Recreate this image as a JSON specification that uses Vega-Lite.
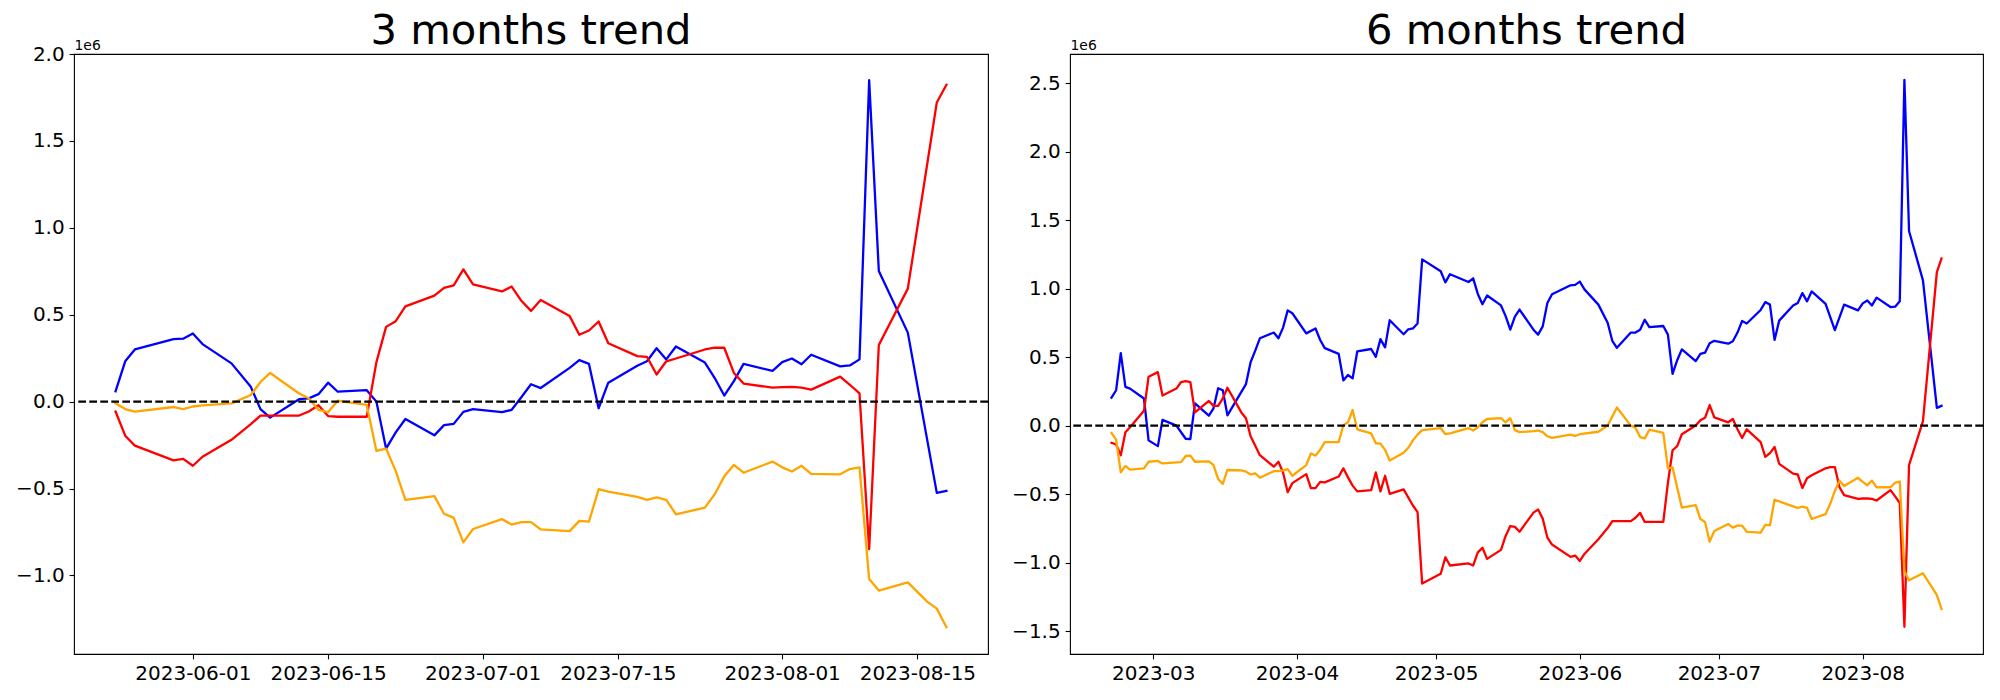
{
"$schema": "https://vega.github.io/schema/vega-lite/v6.json",
"background": "white",
"padding": {"left": 15, "top": 10, "right": 10, "bottom": 5},
"config": {
  "font": "DejaVu Sans",
  "view": {"stroke": "black", "strokeWidth": 1.1},
  "axis": {"grid": false, "domain": false, "tickColor": "black", "tickWidth": 1.1, "tickSize": 4.9, "labelFontSize": 20, "labelColor": "black", "labelPadding": 4.9, "labelFont": "DejaVu Sans", "titleFont": "DejaVu Sans"}
},
"datasets": {
"m3": [
{"d":"2023-05-24","s":"blue","v":0.059},{"d":"2023-05-25","s":"blue","v":0.232},{"d":"2023-05-26","s":"blue","v":0.300},{"d":"2023-05-30","s":"blue","v":0.359},{"d":"2023-05-31","s":"blue","v":0.362},{"d":"2023-06-01","s":"blue","v":0.392},{"d":"2023-06-02","s":"blue","v":0.331},{"d":"2023-06-05","s":"blue","v":0.220},{"d":"2023-06-07","s":"blue","v":0.085},{"d":"2023-06-08","s":"blue","v":-0.043},{"d":"2023-06-09","s":"blue","v":-0.092},{"d":"2023-06-12","s":"blue","v":0.014},{"d":"2023-06-13","s":"blue","v":0.019},{"d":"2023-06-14","s":"blue","v":0.043},{"d":"2023-06-15","s":"blue","v":0.109},{"d":"2023-06-16","s":"blue","v":0.057},{"d":"2023-06-19","s":"blue","v":0.066},{"d":"2023-06-20","s":"blue","v":0.000},{"d":"2023-06-21","s":"blue","v":-0.270},{"d":"2023-06-22","s":"blue","v":-0.177},{"d":"2023-06-23","s":"blue","v":-0.100},{"d":"2023-06-26","s":"blue","v":-0.194},{"d":"2023-06-27","s":"blue","v":-0.135},{"d":"2023-06-28","s":"blue","v":-0.128},{"d":"2023-06-29","s":"blue","v":-0.059},{"d":"2023-06-30","s":"blue","v":-0.043},{"d":"2023-07-03","s":"blue","v":-0.061},{"d":"2023-07-04","s":"blue","v":-0.047},{"d":"2023-07-05","s":"blue","v":0.025},{"d":"2023-07-06","s":"blue","v":0.100},{"d":"2023-07-07","s":"blue","v":0.078},{"d":"2023-07-10","s":"blue","v":0.194},{"d":"2023-07-11","s":"blue","v":0.239},{"d":"2023-07-12","s":"blue","v":0.217},{"d":"2023-07-13","s":"blue","v":-0.038},{"d":"2023-07-14","s":"blue","v":0.109},{"d":"2023-07-17","s":"blue","v":0.206},{"d":"2023-07-18","s":"blue","v":0.232},{"d":"2023-07-19","s":"blue","v":0.307},{"d":"2023-07-20","s":"blue","v":0.243},{"d":"2023-07-21","s":"blue","v":0.317},{"d":"2023-07-24","s":"blue","v":0.225},{"d":"2023-07-25","s":"blue","v":0.137},{"d":"2023-07-26","s":"blue","v":0.035},{"d":"2023-07-27","s":"blue","v":0.118},{"d":"2023-07-28","s":"blue","v":0.217},{"d":"2023-07-31","s":"blue","v":0.177},{"d":"2023-08-01","s":"blue","v":0.227},{"d":"2023-08-02","s":"blue","v":0.248},{"d":"2023-08-03","s":"blue","v":0.215},{"d":"2023-08-04","s":"blue","v":0.270},{"d":"2023-08-07","s":"blue","v":0.203},{"d":"2023-08-08","s":"blue","v":0.208},{"d":"2023-08-09","s":"blue","v":0.243},{"d":"2023-08-10","s":"blue","v":1.849},{"d":"2023-08-11","s":"blue","v":0.752},{"d":"2023-08-14","s":"blue","v":0.397},{"d":"2023-08-17","s":"blue","v":-0.525},{"d":"2023-08-18","s":"blue","v":-0.513},
{"d":"2023-05-24","s":"red","v":-0.057},{"d":"2023-05-25","s":"red","v":-0.196},{"d":"2023-05-26","s":"red","v":-0.253},{"d":"2023-05-30","s":"red","v":-0.338},{"d":"2023-05-31","s":"red","v":-0.329},{"d":"2023-06-01","s":"red","v":-0.369},{"d":"2023-06-02","s":"red","v":-0.317},{"d":"2023-06-05","s":"red","v":-0.220},{"d":"2023-06-07","s":"red","v":-0.130},{"d":"2023-06-08","s":"red","v":-0.080},{"d":"2023-06-09","s":"red","v":-0.080},{"d":"2023-06-12","s":"red","v":-0.080},{"d":"2023-06-13","s":"red","v":-0.057},{"d":"2023-06-14","s":"red","v":-0.021},{"d":"2023-06-15","s":"red","v":-0.083},{"d":"2023-06-16","s":"red","v":-0.087},{"d":"2023-06-19","s":"red","v":-0.087},{"d":"2023-06-20","s":"red","v":0.227},{"d":"2023-06-21","s":"red","v":0.430},{"d":"2023-06-22","s":"red","v":0.463},{"d":"2023-06-23","s":"red","v":0.548},{"d":"2023-06-26","s":"red","v":0.610},{"d":"2023-06-27","s":"red","v":0.655},{"d":"2023-06-28","s":"red","v":0.669},{"d":"2023-06-29","s":"red","v":0.761},{"d":"2023-06-30","s":"red","v":0.674},{"d":"2023-07-03","s":"red","v":0.634},{"d":"2023-07-04","s":"red","v":0.662},{"d":"2023-07-05","s":"red","v":0.580},{"d":"2023-07-06","s":"red","v":0.522},{"d":"2023-07-07","s":"red","v":0.585},{"d":"2023-07-10","s":"red","v":0.492},{"d":"2023-07-11","s":"red","v":0.385},{"d":"2023-07-12","s":"red","v":0.409},{"d":"2023-07-13","s":"red","v":0.461},{"d":"2023-07-14","s":"red","v":0.336},{"d":"2023-07-17","s":"red","v":0.262},{"d":"2023-07-18","s":"red","v":0.258},{"d":"2023-07-19","s":"red","v":0.156},{"d":"2023-07-20","s":"red","v":0.232},{"d":"2023-07-21","s":"red","v":0.248},{"d":"2023-07-24","s":"red","v":0.300},{"d":"2023-07-25","s":"red","v":0.310},{"d":"2023-07-26","s":"red","v":0.310},{"d":"2023-07-27","s":"red","v":0.165},{"d":"2023-07-28","s":"red","v":0.104},{"d":"2023-07-31","s":"red","v":0.080},{"d":"2023-08-01","s":"red","v":0.083},{"d":"2023-08-02","s":"red","v":0.085},{"d":"2023-08-03","s":"red","v":0.080},{"d":"2023-08-04","s":"red","v":0.069},{"d":"2023-08-07","s":"red","v":0.144},{"d":"2023-08-08","s":"red","v":0.097},{"d":"2023-08-09","s":"red","v":0.047},{"d":"2023-08-10","s":"red","v":-0.849},{"d":"2023-08-11","s":"red","v":0.326},{"d":"2023-08-14","s":"red","v":0.650},{"d":"2023-08-17","s":"red","v":1.721},{"d":"2023-08-18","s":"red","v":1.823},
{"d":"2023-05-24","s":"orange","v":-0.010},{"d":"2023-05-25","s":"orange","v":-0.043},{"d":"2023-05-26","s":"orange","v":-0.057},{"d":"2023-05-30","s":"orange","v":-0.031},{"d":"2023-05-31","s":"orange","v":-0.043},{"d":"2023-06-01","s":"orange","v":-0.028},{"d":"2023-06-02","s":"orange","v":-0.022},{"d":"2023-06-05","s":"orange","v":-0.010},{"d":"2023-06-07","s":"orange","v":0.038},{"d":"2023-06-08","s":"orange","v":0.113},{"d":"2023-06-09","s":"orange","v":0.165},{"d":"2023-06-12","s":"orange","v":0.047},{"d":"2023-06-13","s":"orange","v":0.019},{"d":"2023-06-14","s":"orange","v":-0.047},{"d":"2023-06-15","s":"orange","v":-0.061},{"d":"2023-06-16","s":"orange","v":0.005},{"d":"2023-06-19","s":"orange","v":-0.019},{"d":"2023-06-20","s":"orange","v":-0.284},{"d":"2023-06-21","s":"orange","v":-0.270},{"d":"2023-06-22","s":"orange","v":-0.400},{"d":"2023-06-23","s":"orange","v":-0.565},{"d":"2023-06-26","s":"orange","v":-0.544},{"d":"2023-06-27","s":"orange","v":-0.645},{"d":"2023-06-28","s":"orange","v":-0.669},{"d":"2023-06-29","s":"orange","v":-0.810},{"d":"2023-06-30","s":"orange","v":-0.733},{"d":"2023-07-03","s":"orange","v":-0.676},{"d":"2023-07-04","s":"orange","v":-0.707},{"d":"2023-07-05","s":"orange","v":-0.693},{"d":"2023-07-06","s":"orange","v":-0.693},{"d":"2023-07-07","s":"orange","v":-0.735},{"d":"2023-07-10","s":"orange","v":-0.745},{"d":"2023-07-11","s":"orange","v":-0.686},{"d":"2023-07-12","s":"orange","v":-0.690},{"d":"2023-07-13","s":"orange","v":-0.504},{"d":"2023-07-14","s":"orange","v":-0.518},{"d":"2023-07-17","s":"orange","v":-0.548},{"d":"2023-07-18","s":"orange","v":-0.565},{"d":"2023-07-19","s":"orange","v":-0.551},{"d":"2023-07-20","s":"orange","v":-0.565},{"d":"2023-07-21","s":"orange","v":-0.648},{"d":"2023-07-24","s":"orange","v":-0.610},{"d":"2023-07-25","s":"orange","v":-0.534},{"d":"2023-07-26","s":"orange","v":-0.430},{"d":"2023-07-27","s":"orange","v":-0.364},{"d":"2023-07-28","s":"orange","v":-0.409},{"d":"2023-07-31","s":"orange","v":-0.345},{"d":"2023-08-01","s":"orange","v":-0.378},{"d":"2023-08-02","s":"orange","v":-0.402},{"d":"2023-08-03","s":"orange","v":-0.369},{"d":"2023-08-04","s":"orange","v":-0.416},{"d":"2023-08-07","s":"orange","v":-0.418},{"d":"2023-08-08","s":"orange","v":-0.388},{"d":"2023-08-09","s":"orange","v":-0.378},{"d":"2023-08-10","s":"orange","v":-1.021},{"d":"2023-08-11","s":"orange","v":-1.087},{"d":"2023-08-14","s":"orange","v":-1.040},{"d":"2023-08-16","s":"orange","v":-1.151},{"d":"2023-08-17","s":"orange","v":-1.191},{"d":"2023-08-18","s":"orange","v":-1.298}
],
"m6": [
{"d":"2023-02-20","s":"blue","v":0.204},{"d":"2023-02-21","s":"blue","v":0.258},{"d":"2023-02-22","s":"blue","v":0.529},{"d":"2023-02-23","s":"blue","v":0.282},{"d":"2023-02-24","s":"blue","v":0.270},{"d":"2023-02-27","s":"blue","v":0.198},{"d":"2023-02-28","s":"blue","v":-0.108},{"d":"2023-03-02","s":"blue","v":-0.150},{"d":"2023-03-03","s":"blue","v":0.042},{"d":"2023-03-06","s":"blue","v":0.000},{"d":"2023-03-08","s":"blue","v":-0.096},{"d":"2023-03-09","s":"blue","v":-0.099},{"d":"2023-03-10","s":"blue","v":0.162},{"d":"2023-03-13","s":"blue","v":0.072},{"d":"2023-03-14","s":"blue","v":0.126},{"d":"2023-03-15","s":"blue","v":0.273},{"d":"2023-03-16","s":"blue","v":0.258},{"d":"2023-03-17","s":"blue","v":0.075},{"d":"2023-03-21","s":"blue","v":0.303},{"d":"2023-03-22","s":"blue","v":0.462},{"d":"2023-03-23","s":"blue","v":0.547},{"d":"2023-03-24","s":"blue","v":0.637},{"d":"2023-03-27","s":"blue","v":0.679},{"d":"2023-03-28","s":"blue","v":0.637},{"d":"2023-03-29","s":"blue","v":0.715},{"d":"2023-03-30","s":"blue","v":0.841},{"d":"2023-03-31","s":"blue","v":0.820},{"d":"2023-04-03","s":"blue","v":0.673},{"d":"2023-04-05","s":"blue","v":0.709},{"d":"2023-04-06","s":"blue","v":0.625},{"d":"2023-04-07","s":"blue","v":0.565},{"d":"2023-04-10","s":"blue","v":0.523},{"d":"2023-04-11","s":"blue","v":0.330},{"d":"2023-04-12","s":"blue","v":0.369},{"d":"2023-04-13","s":"blue","v":0.345},{"d":"2023-04-14","s":"blue","v":0.541},{"d":"2023-04-17","s":"blue","v":0.559},{"d":"2023-04-18","s":"blue","v":0.502},{"d":"2023-04-19","s":"blue","v":0.631},{"d":"2023-04-20","s":"blue","v":0.571},{"d":"2023-04-21","s":"blue","v":0.769},{"d":"2023-04-24","s":"blue","v":0.667},{"d":"2023-04-25","s":"blue","v":0.703},{"d":"2023-04-26","s":"blue","v":0.709},{"d":"2023-04-27","s":"blue","v":0.745},{"d":"2023-04-28","s":"blue","v":1.213},{"d":"2023-05-02","s":"blue","v":1.126},{"d":"2023-05-03","s":"blue","v":1.045},{"d":"2023-05-04","s":"blue","v":1.105},{"d":"2023-05-08","s":"blue","v":1.048},{"d":"2023-05-09","s":"blue","v":1.075},{"d":"2023-05-10","s":"blue","v":0.961},{"d":"2023-05-11","s":"blue","v":0.886},{"d":"2023-05-12","s":"blue","v":0.949},{"d":"2023-05-15","s":"blue","v":0.877},{"d":"2023-05-16","s":"blue","v":0.799},{"d":"2023-05-17","s":"blue","v":0.700},{"d":"2023-05-18","s":"blue","v":0.796},{"d":"2023-05-19","s":"blue","v":0.847},{"d":"2023-05-22","s":"blue","v":0.700},{"d":"2023-05-23","s":"blue","v":0.664},{"d":"2023-05-24","s":"blue","v":0.724},{"d":"2023-05-25","s":"blue","v":0.895},{"d":"2023-05-26","s":"blue","v":0.958},{"d":"2023-05-30","s":"blue","v":1.024},{"d":"2023-05-31","s":"blue","v":1.027},{"d":"2023-06-01","s":"blue","v":1.051},{"d":"2023-06-02","s":"blue","v":0.994},{"d":"2023-06-05","s":"blue","v":0.883},{"d":"2023-06-07","s":"blue","v":0.751},{"d":"2023-06-08","s":"blue","v":0.619},{"d":"2023-06-09","s":"blue","v":0.568},{"d":"2023-06-12","s":"blue","v":0.679},{"d":"2023-06-13","s":"blue","v":0.679},{"d":"2023-06-14","s":"blue","v":0.700},{"d":"2023-06-15","s":"blue","v":0.772},{"d":"2023-06-16","s":"blue","v":0.718},{"d":"2023-06-19","s":"blue","v":0.727},{"d":"2023-06-20","s":"blue","v":0.664},{"d":"2023-06-21","s":"blue","v":0.378},{"d":"2023-06-22","s":"blue","v":0.477},{"d":"2023-06-23","s":"blue","v":0.556},{"d":"2023-06-26","s":"blue","v":0.471},{"d":"2023-06-27","s":"blue","v":0.523},{"d":"2023-06-28","s":"blue","v":0.532},{"d":"2023-06-29","s":"blue","v":0.601},{"d":"2023-06-30","s":"blue","v":0.619},{"d":"2023-07-03","s":"blue","v":0.598},{"d":"2023-07-04","s":"blue","v":0.616},{"d":"2023-07-05","s":"blue","v":0.679},{"d":"2023-07-06","s":"blue","v":0.763},{"d":"2023-07-07","s":"blue","v":0.745},{"d":"2023-07-10","s":"blue","v":0.844},{"d":"2023-07-11","s":"blue","v":0.901},{"d":"2023-07-12","s":"blue","v":0.883},{"d":"2023-07-13","s":"blue","v":0.625},{"d":"2023-07-14","s":"blue","v":0.766},{"d":"2023-07-17","s":"blue","v":0.877},{"d":"2023-07-18","s":"blue","v":0.895},{"d":"2023-07-19","s":"blue","v":0.967},{"d":"2023-07-20","s":"blue","v":0.907},{"d":"2023-07-21","s":"blue","v":0.979},{"d":"2023-07-24","s":"blue","v":0.889},{"d":"2023-07-26","s":"blue","v":0.697},{"d":"2023-07-28","s":"blue","v":0.883},{"d":"2023-07-31","s":"blue","v":0.841},{"d":"2023-08-01","s":"blue","v":0.892},{"d":"2023-08-02","s":"blue","v":0.913},{"d":"2023-08-03","s":"blue","v":0.877},{"d":"2023-08-04","s":"blue","v":0.934},{"d":"2023-08-07","s":"blue","v":0.865},{"d":"2023-08-08","s":"blue","v":0.868},{"d":"2023-08-09","s":"blue","v":0.907},{"d":"2023-08-10","s":"blue","v":2.523},{"d":"2023-08-11","s":"blue","v":1.420},{"d":"2023-08-14","s":"blue","v":1.060},{"d":"2023-08-17","s":"blue","v":0.129},{"d":"2023-08-18","s":"blue","v":0.144},
{"d":"2023-02-20","s":"red","v":-0.126},{"d":"2023-02-21","s":"red","v":-0.138},{"d":"2023-02-22","s":"red","v":-0.216},{"d":"2023-02-23","s":"red","v":-0.048},{"d":"2023-02-24","s":"red","v":-0.012},{"d":"2023-02-27","s":"red","v":0.108},{"d":"2023-02-28","s":"red","v":0.357},{"d":"2023-03-02","s":"red","v":0.390},{"d":"2023-03-03","s":"red","v":0.219},{"d":"2023-03-06","s":"red","v":0.270},{"d":"2023-03-07","s":"red","v":0.318},{"d":"2023-03-08","s":"red","v":0.324},{"d":"2023-03-09","s":"red","v":0.318},{"d":"2023-03-10","s":"red","v":0.096},{"d":"2023-03-13","s":"red","v":0.180},{"d":"2023-03-14","s":"red","v":0.144},{"d":"2023-03-15","s":"red","v":0.144},{"d":"2023-03-16","s":"red","v":0.198},{"d":"2023-03-17","s":"red","v":0.276},{"d":"2023-03-20","s":"red","v":0.096},{"d":"2023-03-21","s":"red","v":0.054},{"d":"2023-03-22","s":"red","v":-0.078},{"d":"2023-03-23","s":"red","v":-0.147},{"d":"2023-03-24","s":"red","v":-0.216},{"d":"2023-03-27","s":"red","v":-0.300},{"d":"2023-03-28","s":"red","v":-0.264},{"d":"2023-03-29","s":"red","v":-0.342},{"d":"2023-03-30","s":"red","v":-0.486},{"d":"2023-03-31","s":"red","v":-0.420},{"d":"2023-04-03","s":"red","v":-0.354},{"d":"2023-04-04","s":"red","v":-0.456},{"d":"2023-04-05","s":"red","v":-0.456},{"d":"2023-04-06","s":"red","v":-0.411},{"d":"2023-04-07","s":"red","v":-0.414},{"d":"2023-04-10","s":"red","v":-0.372},{"d":"2023-04-11","s":"red","v":-0.312},{"d":"2023-04-12","s":"red","v":-0.378},{"d":"2023-04-13","s":"red","v":-0.438},{"d":"2023-04-14","s":"red","v":-0.480},{"d":"2023-04-17","s":"red","v":-0.471},{"d":"2023-04-18","s":"red","v":-0.342},{"d":"2023-04-19","s":"red","v":-0.480},{"d":"2023-04-20","s":"red","v":-0.366},{"d":"2023-04-21","s":"red","v":-0.498},{"d":"2023-04-24","s":"red","v":-0.465},{"d":"2023-04-26","s":"red","v":-0.583},{"d":"2023-04-27","s":"red","v":-0.631},{"d":"2023-04-28","s":"red","v":-1.153},{"d":"2023-05-02","s":"red","v":-1.081},{"d":"2023-05-03","s":"red","v":-0.961},{"d":"2023-05-04","s":"red","v":-1.021},{"d":"2023-05-08","s":"red","v":-1.006},{"d":"2023-05-09","s":"red","v":-1.021},{"d":"2023-05-10","s":"red","v":-0.925},{"d":"2023-05-11","s":"red","v":-0.892},{"d":"2023-05-12","s":"red","v":-0.973},{"d":"2023-05-15","s":"red","v":-0.907},{"d":"2023-05-16","s":"red","v":-0.805},{"d":"2023-05-17","s":"red","v":-0.733},{"d":"2023-05-18","s":"red","v":-0.739},{"d":"2023-05-19","s":"red","v":-0.775},{"d":"2023-05-22","s":"red","v":-0.635},{"d":"2023-05-23","s":"red","v":-0.613},{"d":"2023-05-24","s":"red","v":-0.679},{"d":"2023-05-25","s":"red","v":-0.817},{"d":"2023-05-26","s":"red","v":-0.868},{"d":"2023-05-30","s":"red","v":-0.958},{"d":"2023-05-31","s":"red","v":-0.949},{"d":"2023-06-01","s":"red","v":-0.988},{"d":"2023-06-02","s":"red","v":-0.937},{"d":"2023-06-05","s":"red","v":-0.829},{"d":"2023-06-07","s":"red","v":-0.748},{"d":"2023-06-08","s":"red","v":-0.697},{"d":"2023-06-09","s":"red","v":-0.697},{"d":"2023-06-12","s":"red","v":-0.697},{"d":"2023-06-13","s":"red","v":-0.673},{"d":"2023-06-14","s":"red","v":-0.637},{"d":"2023-06-15","s":"red","v":-0.703},{"d":"2023-06-16","s":"red","v":-0.703},{"d":"2023-06-19","s":"red","v":-0.703},{"d":"2023-06-20","s":"red","v":-0.417},{"d":"2023-06-21","s":"red","v":-0.180},{"d":"2023-06-22","s":"red","v":-0.150},{"d":"2023-06-23","s":"red","v":-0.063},{"d":"2023-06-26","s":"red","v":0.000},{"d":"2023-06-27","s":"red","v":0.039},{"d":"2023-06-28","s":"red","v":0.057},{"d":"2023-06-29","s":"red","v":0.150},{"d":"2023-06-30","s":"red","v":0.060},{"d":"2023-07-03","s":"red","v":0.024},{"d":"2023-07-04","s":"red","v":0.048},{"d":"2023-07-05","s":"red","v":-0.027},{"d":"2023-07-06","s":"red","v":-0.090},{"d":"2023-07-07","s":"red","v":-0.027},{"d":"2023-07-10","s":"red","v":-0.120},{"d":"2023-07-11","s":"red","v":-0.228},{"d":"2023-07-12","s":"red","v":-0.201},{"d":"2023-07-13","s":"red","v":-0.156},{"d":"2023-07-14","s":"red","v":-0.279},{"d":"2023-07-17","s":"red","v":-0.351},{"d":"2023-07-18","s":"red","v":-0.357},{"d":"2023-07-19","s":"red","v":-0.456},{"d":"2023-07-20","s":"red","v":-0.384},{"d":"2023-07-21","s":"red","v":-0.363},{"d":"2023-07-24","s":"red","v":-0.312},{"d":"2023-07-25","s":"red","v":-0.303},{"d":"2023-07-26","s":"red","v":-0.303},{"d":"2023-07-27","s":"red","v":-0.450},{"d":"2023-07-28","s":"red","v":-0.508},{"d":"2023-07-31","s":"red","v":-0.535},{"d":"2023-08-01","s":"red","v":-0.532},{"d":"2023-08-02","s":"red","v":-0.532},{"d":"2023-08-03","s":"red","v":-0.535},{"d":"2023-08-04","s":"red","v":-0.547},{"d":"2023-08-07","s":"red","v":-0.471},{"d":"2023-08-08","s":"red","v":-0.517},{"d":"2023-08-09","s":"red","v":-0.565},{"d":"2023-08-10","s":"red","v":-1.468},{"d":"2023-08-11","s":"red","v":-0.288},{"d":"2023-08-14","s":"red","v":0.033},{"d":"2023-08-17","s":"red","v":1.120},{"d":"2023-08-18","s":"red","v":1.219},
{"d":"2023-02-20","s":"orange","v":-0.054},{"d":"2023-02-21","s":"orange","v":-0.102},{"d":"2023-02-22","s":"orange","v":-0.342},{"d":"2023-02-23","s":"orange","v":-0.294},{"d":"2023-02-24","s":"orange","v":-0.321},{"d":"2023-02-27","s":"orange","v":-0.312},{"d":"2023-02-28","s":"orange","v":-0.264},{"d":"2023-03-02","s":"orange","v":-0.258},{"d":"2023-03-03","s":"orange","v":-0.276},{"d":"2023-03-07","s":"orange","v":-0.267},{"d":"2023-03-08","s":"orange","v":-0.222},{"d":"2023-03-09","s":"orange","v":-0.219},{"d":"2023-03-10","s":"orange","v":-0.264},{"d":"2023-03-13","s":"orange","v":-0.261},{"d":"2023-03-14","s":"orange","v":-0.288},{"d":"2023-03-15","s":"orange","v":-0.390},{"d":"2023-03-16","s":"orange","v":-0.426},{"d":"2023-03-17","s":"orange","v":-0.324},{"d":"2023-03-20","s":"orange","v":-0.327},{"d":"2023-03-21","s":"orange","v":-0.336},{"d":"2023-03-22","s":"orange","v":-0.357},{"d":"2023-03-23","s":"orange","v":-0.348},{"d":"2023-03-24","s":"orange","v":-0.381},{"d":"2023-03-27","s":"orange","v":-0.333},{"d":"2023-03-28","s":"orange","v":-0.333},{"d":"2023-03-29","s":"orange","v":-0.327},{"d":"2023-03-30","s":"orange","v":-0.318},{"d":"2023-03-31","s":"orange","v":-0.366},{"d":"2023-04-03","s":"orange","v":-0.288},{"d":"2023-04-04","s":"orange","v":-0.204},{"d":"2023-04-05","s":"orange","v":-0.219},{"d":"2023-04-06","s":"orange","v":-0.177},{"d":"2023-04-07","s":"orange","v":-0.120},{"d":"2023-04-10","s":"orange","v":-0.120},{"d":"2023-04-11","s":"orange","v":0.003},{"d":"2023-04-12","s":"orange","v":0.024},{"d":"2023-04-13","s":"orange","v":0.114},{"d":"2023-04-14","s":"orange","v":-0.027},{"d":"2023-04-17","s":"orange","v":-0.057},{"d":"2023-04-18","s":"orange","v":-0.129},{"d":"2023-04-19","s":"orange","v":-0.132},{"d":"2023-04-20","s":"orange","v":-0.177},{"d":"2023-04-21","s":"orange","v":-0.255},{"d":"2023-04-24","s":"orange","v":-0.198},{"d":"2023-04-25","s":"orange","v":-0.162},{"d":"2023-04-26","s":"orange","v":-0.108},{"d":"2023-04-27","s":"orange","v":-0.066},{"d":"2023-04-28","s":"orange","v":-0.033},{"d":"2023-05-02","s":"orange","v":-0.018},{"d":"2023-05-03","s":"orange","v":-0.063},{"d":"2023-05-04","s":"orange","v":-0.057},{"d":"2023-05-08","s":"orange","v":-0.018},{"d":"2023-05-09","s":"orange","v":-0.036},{"d":"2023-05-10","s":"orange","v":-0.012},{"d":"2023-05-11","s":"orange","v":0.024},{"d":"2023-05-12","s":"orange","v":0.048},{"d":"2023-05-15","s":"orange","v":0.054},{"d":"2023-05-16","s":"orange","v":0.024},{"d":"2023-05-17","s":"orange","v":0.054},{"d":"2023-05-18","s":"orange","v":-0.033},{"d":"2023-05-19","s":"orange","v":-0.048},{"d":"2023-05-22","s":"orange","v":-0.040},{"d":"2023-05-23","s":"orange","v":-0.036},{"d":"2023-05-24","s":"orange","v":-0.048},{"d":"2023-05-25","s":"orange","v":-0.078},{"d":"2023-05-26","s":"orange","v":-0.090},{"d":"2023-05-30","s":"orange","v":-0.066},{"d":"2023-05-31","s":"orange","v":-0.075},{"d":"2023-06-01","s":"orange","v":-0.063},{"d":"2023-06-05","s":"orange","v":-0.045},{"d":"2023-06-07","s":"orange","v":0.000},{"d":"2023-06-09","s":"orange","v":0.132},{"d":"2023-06-12","s":"orange","v":0.000},{"d":"2023-06-13","s":"orange","v":-0.015},{"d":"2023-06-14","s":"orange","v":-0.084},{"d":"2023-06-15","s":"orange","v":-0.093},{"d":"2023-06-16","s":"orange","v":-0.030},{"d":"2023-06-19","s":"orange","v":-0.054},{"d":"2023-06-20","s":"orange","v":-0.312},{"d":"2023-06-21","s":"orange","v":-0.306},{"d":"2023-06-23","s":"orange","v":-0.598},{"d":"2023-06-26","s":"orange","v":-0.580},{"d":"2023-06-27","s":"orange","v":-0.682},{"d":"2023-06-28","s":"orange","v":-0.703},{"d":"2023-06-29","s":"orange","v":-0.847},{"d":"2023-06-30","s":"orange","v":-0.769},{"d":"2023-07-03","s":"orange","v":-0.718},{"d":"2023-07-04","s":"orange","v":-0.745},{"d":"2023-07-05","s":"orange","v":-0.730},{"d":"2023-07-06","s":"orange","v":-0.730},{"d":"2023-07-07","s":"orange","v":-0.775},{"d":"2023-07-10","s":"orange","v":-0.781},{"d":"2023-07-11","s":"orange","v":-0.724},{"d":"2023-07-12","s":"orange","v":-0.727},{"d":"2023-07-13","s":"orange","v":-0.541},{"d":"2023-07-17","s":"orange","v":-0.589},{"d":"2023-07-18","s":"orange","v":-0.601},{"d":"2023-07-19","s":"orange","v":-0.592},{"d":"2023-07-20","s":"orange","v":-0.601},{"d":"2023-07-21","s":"orange","v":-0.682},{"d":"2023-07-24","s":"orange","v":-0.646},{"d":"2023-07-25","s":"orange","v":-0.571},{"d":"2023-07-26","s":"orange","v":-0.477},{"d":"2023-07-27","s":"orange","v":-0.402},{"d":"2023-07-28","s":"orange","v":-0.441},{"d":"2023-07-31","s":"orange","v":-0.381},{"d":"2023-08-01","s":"orange","v":-0.411},{"d":"2023-08-02","s":"orange","v":-0.435},{"d":"2023-08-03","s":"orange","v":-0.402},{"d":"2023-08-04","s":"orange","v":-0.450},{"d":"2023-08-07","s":"orange","v":-0.450},{"d":"2023-08-08","s":"orange","v":-0.417},{"d":"2023-08-09","s":"orange","v":-0.408},{"d":"2023-08-10","s":"orange","v":-1.063},{"d":"2023-08-11","s":"orange","v":-1.129},{"d":"2023-08-14","s":"orange","v":-1.078},{"d":"2023-08-16","s":"orange","v":-1.183},{"d":"2023-08-17","s":"orange","v":-1.237},{"d":"2023-08-18","s":"orange","v":-1.339}
]
},
"spacing": 82,
"bounds": "flush",
"hconcat": [
{
  "title": {"text": "3 months trend", "fontSize": 41.7, "fontWeight": "normal", "font": "DejaVu Sans", "color": "black", "anchor": "middle", "offset": -47, "baseline": "alphabetic"},
  "width": 914, "height": 600,
  "layer": [
    {
      "data": {"name": "m3"},
      "mark": {"type": "line", "strokeWidth": 2.3, "strokeJoin": "round", "strokeCap": "square"},
      "encoding": {
        "x": {"field": "d", "type": "temporal",
              "scale": {"type": "utc", "nice": false, "domain": [{"year": 2023, "month": 5, "date": 19, "hours": 16, "minutes": 48, "utc": true}, {"year": 2023, "month": 8, "date": 22, "hours": 7, "minutes": 12, "utc": true}]},
              "axis": {"title": null, "labelExpr": "utcFormat(datum.value, '%Y-%m-%d')", "labelAngle": 0, "labelFlush": false, "labelOverlap": false,
                       "values": [{"year": 2023, "month": 6, "date": 1, "utc": true}, {"year": 2023, "month": 6, "date": 15, "utc": true}, {"year": 2023, "month": 7, "date": 1, "utc": true}, {"year": 2023, "month": 7, "date": 15, "utc": true}, {"year": 2023, "month": 8, "date": 1, "utc": true}, {"year": 2023, "month": 8, "date": 15, "utc": true}]}},
        "y": {"field": "v", "type": "quantitative",
              "scale": {"domain": [-1.452, 2.0], "nice": false, "zero": false},
              "axis": {"title": "1e6", "titleAngle": 0, "titleAlign": "left", "titleBaseline": "alphabetic", "titleX": 0, "titleY": -4.5, "titleFontSize": 13.9, "titleFontWeight": "normal", "titleColor": "black",
                       "values": [-1.0, -0.5, 0, 0.5, 1.0, 1.5, 2.0], "labelExpr": "replace(format(datum.value, '.1f'), '-', '\u2212')"}},
        "color": {"field": "s", "type": "nominal", "scale": {"domain": ["blue", "red", "orange"], "range": ["#0000ff", "#ff0000", "#ffa500"]}, "legend": null}
      }
    },
    {
      "data": {"values": [{"v": 0}]},
      "mark": {"type": "rule", "color": "black", "strokeWidth": 2.3, "strokeDash": [7.7, 3.3]},
      "encoding": {"y": {"field": "v", "type": "quantitative"}}
    }
  ]
},
{
  "title": {"text": "6 months trend", "fontSize": 41.7, "fontWeight": "normal", "font": "DejaVu Sans", "color": "black", "anchor": "middle", "offset": -47, "baseline": "alphabetic"},
  "width": 913, "height": 600,
  "layer": [
    {
      "data": {"name": "m6"},
      "mark": {"type": "line", "strokeWidth": 2.3, "strokeJoin": "round", "strokeCap": "square"},
      "encoding": {
        "x": {"field": "d", "type": "temporal",
              "scale": {"type": "utc", "nice": false, "domain": [{"year": 2023, "month": 2, "date": 11, "hours": 1, "minutes": 12, "utc": true}, {"year": 2023, "month": 8, "date": 26, "hours": 22, "minutes": 48, "utc": true}]},
              "axis": {"title": null, "labelExpr": "utcFormat(datum.value, '%Y-%m')", "labelAngle": 0, "labelFlush": false, "labelOverlap": false,
                       "values": [{"year": 2023, "month": 3, "date": 1, "utc": true}, {"year": 2023, "month": 4, "date": 1, "utc": true}, {"year": 2023, "month": 5, "date": 1, "utc": true}, {"year": 2023, "month": 6, "date": 1, "utc": true}, {"year": 2023, "month": 7, "date": 1, "utc": true}, {"year": 2023, "month": 8, "date": 1, "utc": true}]}},
        "y": {"field": "v", "type": "quantitative",
              "scale": {"domain": [-1.667, 2.712], "nice": false, "zero": false},
              "axis": {"title": "1e6", "titleAngle": 0, "titleAlign": "left", "titleBaseline": "alphabetic", "titleX": 0, "titleY": -4.5, "titleFontSize": 13.9, "titleFontWeight": "normal", "titleColor": "black",
                       "values": [-1.5, -1.0, -0.5, 0, 0.5, 1.0, 1.5, 2.0, 2.5], "labelExpr": "replace(format(datum.value, '.1f'), '-', '\u2212')"}},
        "color": {"field": "s", "type": "nominal", "scale": {"domain": ["blue", "red", "orange"], "range": ["#0000ff", "#ff0000", "#ffa500"]}, "legend": null}
      }
    },
    {
      "data": {"values": [{"v": 0}]},
      "mark": {"type": "rule", "color": "black", "strokeWidth": 2.3, "strokeDash": [7.7, 3.3]},
      "encoding": {"y": {"field": "v", "type": "quantitative"}}
    }
  ]
}
]
}
